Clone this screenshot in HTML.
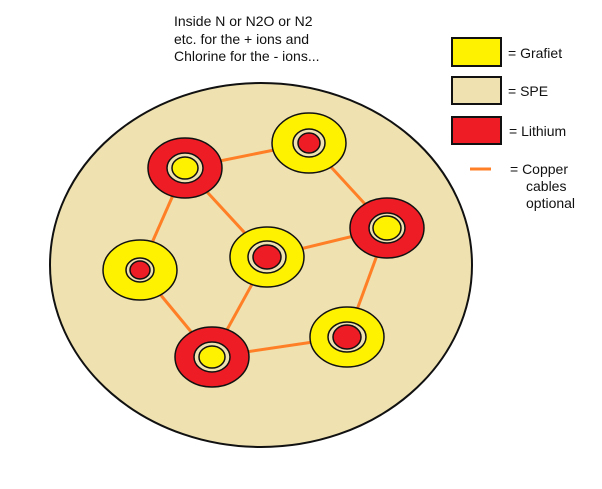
<!DOCTYPE html><html><head><style>body{margin:0;background:#fff}svg{display:block}text{font-family:"Liberation Sans",sans-serif;font-size:14px;fill:#111}</style></head><body>
<svg width="602" height="489" viewBox="0 0 602 489">
<text x="174" y="26">Inside N or N2O or N2</text>
<text x="174" y="44">etc. for the + ions and</text>
<text x="174" y="61">Chlorine for the - ions...</text>
<rect x="452" y="38" width="49" height="28" fill="#fff200" stroke="#111" stroke-width="2"/>
<text x="508" y="58">=  Grafiet</text>
<rect x="452" y="77" width="49" height="27" fill="#efe2b0" stroke="#111" stroke-width="2"/>
<text x="508" y="96">=  SPE</text>
<rect x="452" y="117" width="49" height="27" fill="#ee1c25" stroke="#111" stroke-width="2"/>
<text x="509" y="136">=  Lithium</text>
<line x1="470" y1="169" x2="491" y2="169" stroke="#ff7f27" stroke-width="3"/>
<text x="510" y="174">=  Copper</text>
<text x="526" y="191">cables</text>
<text x="526" y="208">optional</text>
<ellipse cx="261" cy="265" rx="211" ry="182" fill="#efe2b0" stroke="#111" stroke-width="2"/>
<g stroke="#ff7f27" stroke-width="3">
<line x1="185" y1="168" x2="309" y2="143"/><line x1="309" y1="143" x2="387" y2="228"/>
<line x1="185" y1="168" x2="140" y2="270"/><line x1="185" y1="168" x2="267" y2="257"/>
<line x1="267" y1="257" x2="387" y2="228"/><line x1="267" y1="257" x2="212" y2="357"/>
<line x1="140" y1="270" x2="212" y2="357"/><line x1="212" y1="357" x2="347" y2="337"/>
<line x1="387" y1="228" x2="347" y2="337"/></g>
<g stroke="#111" stroke-width="1.5">
<g fill="#ee1c25"><ellipse cx="185" cy="168" rx="37" ry="30"/><ellipse cx="387" cy="228" rx="37" ry="30"/><ellipse cx="212" cy="357" rx="37" ry="30"/></g>
<g fill="#fff200"><ellipse cx="309" cy="143" rx="37" ry="30"/><ellipse cx="267" cy="257" rx="37" ry="30"/><ellipse cx="140" cy="270" rx="37" ry="30"/><ellipse cx="347" cy="337" rx="37" ry="30"/></g>
<g fill="#efe2b0"><ellipse cx="185" cy="168" rx="18" ry="15"/><ellipse cx="387" cy="228" rx="18" ry="15"/><ellipse cx="212" cy="357" rx="18" ry="15"/><ellipse cx="309" cy="143" rx="16" ry="14"/><ellipse cx="267" cy="257" rx="19" ry="16"/><ellipse cx="140" cy="270" rx="14" ry="12"/><ellipse cx="347" cy="337" rx="19" ry="15"/></g>
<g fill="#fff200"><ellipse cx="185" cy="168" rx="13" ry="11"/><ellipse cx="387" cy="228" rx="14" ry="12"/><ellipse cx="212" cy="357" rx="13" ry="11"/></g>
<g fill="#ee1c25"><ellipse cx="309" cy="143" rx="11" ry="10"/><ellipse cx="267" cy="257" rx="14" ry="12"/><ellipse cx="140" cy="270" rx="10" ry="9"/><ellipse cx="347" cy="337" rx="14" ry="12"/></g>
</g>
</svg></body></html>
